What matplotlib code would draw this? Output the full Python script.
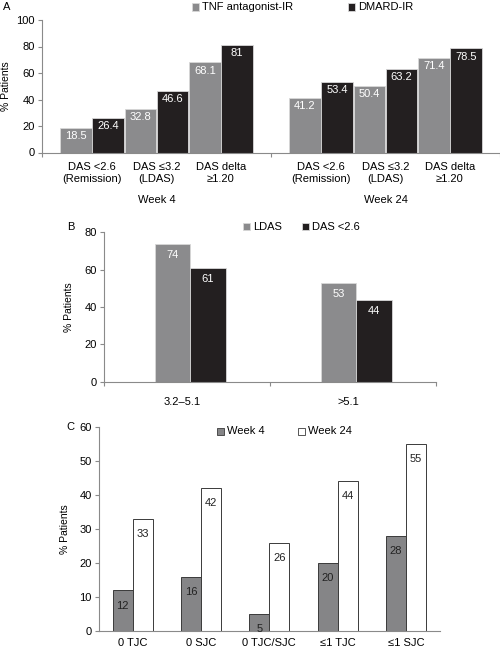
import matplotlib
matplotlib.use("Agg")
import matplotlib.pyplot as plt
import numpy as np

plt.rcParams['font.family'] = ['Liberation Sans', 'DejaVu Sans']
plt.rcParams['font.size'] = 7.5

GRAY = '#8b8b8d'
BLACK = '#231f20'
AXC = '#8a8a8a'

# panel A data
a_cats = ['DAS <2.6\n(Remission)', 'DAS \u22643.2\n(LDAS)', 'DAS delta\n\u22651.20']
a_groups = ['Week 4', 'Week 24']
a_tnf = [18.5, 32.8, 68.1, 41.2, 50.4, 71.4]
a_dmard = [26.4, 46.6, 81, 53.4, 63.2, 78.5]
a_labels_tnf = ['18.5', '32.8', '68.1', '41.2', '50.4', '71.4']
a_labels_dmard = ['26.4', '46.6', '81', '53.4', '63.2', '78.5']

# panel B data
b_cats = ['3.2\u20135.1', '>5.1']
b_ldas = [74, 53]
b_das = [61, 44]

# panel C data
c_cats = ['0 TJC', '0 SJC', '0 TJC/SJC', '\u22641 TJC', '\u22641 SJC']
c_wk4 = [12, 16, 5, 20, 28]
c_wk24 = [33, 42, 26, 44, 55]

W, H = 500, 649
fig = plt.figure(figsize=(W / 100, H / 100), dpi=100)


def px_axes(left, right, top, bottom):
    return fig.add_axes([left / W, 1 - bottom / H, (right - left) / W, (bottom - top) / H])


def style(ax):
    for s in ['top', 'right']:
        ax.spines[s].set_visible(False)
    for s in ['left', 'bottom']:
        ax.spines[s].set_color(AXC)
        ax.spines[s].set_linewidth(0.8)
    ax.tick_params(axis='y', length=3, width=0.8, color=AXC, pad=2, labelsize=8)
    ax.set_ylabel('% Patients', fontsize=7.5)


def legend_item(x, y, fc, ec, text):
    fig.patches.append(plt.Rectangle((x / W, 1 - (y + 3.5) / H), 7 / W, 7 / H,
                                     transform=fig.transFigure, fc=fc, ec=ec, lw=0.6))
    fig.text((x + 10) / W, 1 - y / H, text, va='center', ha='left', fontsize=8)


# ---- panel A
ax = px_axes(42, 500, 20, 152.5)
style(ax)
unit = 64.5
G = 229 / unit
idx = np.arange(6)
centers = (idx // 3) * G + 0.775 + (idx % 3)
bw = 0.49
ax.bar(centers - 0.25, a_tnf, bw, color=GRAY, edgecolor='#d8d8d8', lw=0.6)
ax.bar(centers + 0.25, a_dmard, bw, color=BLACK, edgecolor='#d8d8d8', lw=0.6)
for c, v, t in zip(centers, a_tnf, a_labels_tnf):
    ax.text(c - 0.25, v - 2.5, t, ha='center', va='top', color='white', fontsize=8)
for c, v, t in zip(centers, a_dmard, a_labels_dmard):
    ax.text(c + 0.25, v - 2.5, t, ha='center', va='top', color='white', fontsize=8)
ax.set_xlim(0, 458 / unit)
ax.set_ylim(0, 100)
ax.set_yticks(range(0, 101, 20))
ax.set_xticks([0, G, 2 * G])
ax.set_xticklabels([])
ax.tick_params(axis='x', length=3, width=0.8, color=AXC)
for c, lab in zip(centers, a_cats * 2):
    ax.text(c, -7.5, lab, ha='center', va='top', fontsize=8, linespacing=1.25)
for g, lab in enumerate(a_groups):
    ax.text(g * G + G / 2, -32, lab, ha='center', va='top', fontsize=8)
ax.yaxis.set_label_coords(-0.068, 0.5)
fig.text(3 / W, 1 - 7 / H, 'A', va='center', ha='left', fontsize=8)
legend_item(192, 7, GRAY, '#d8d8d8', 'TNF antagonist-IR')
legend_item(348, 7, BLACK, '#d8d8d8', 'DMARD-IR')

# ---- panel B
ax = px_axes(104, 436, 232.3, 381.7)
style(ax)
xb = np.arange(len(b_cats)) + 0.52
bw = 0.214
ax.bar(xb - bw / 2, b_ldas, bw, color=GRAY, edgecolor='#d8d8d8', lw=0.6)
ax.bar(xb + bw / 2, b_das, bw, color=BLACK, edgecolor='#d8d8d8', lw=0.6)
for x, v in zip(xb, b_ldas):
    ax.text(x - bw / 2, v - 3.5, str(v), ha='center', va='top', color='white', fontsize=8)
for x, v in zip(xb, b_das):
    ax.text(x + bw / 2, v - 3.5, str(v), ha='center', va='top', color='white', fontsize=8)
ax.set_xlim(0, 2)
ax.set_ylim(0, 80)
ax.set_yticks(range(0, 81, 20))
ax.set_xticks([0, 1, 2])
ax.set_xticklabels([])
ax.tick_params(axis='x', length=3, width=0.8, color=AXC)
for x, lab in zip(xb, b_cats):
    ax.text(x - 0.05, -8, lab, ha='center', va='top', fontsize=8)
ax.yaxis.set_label_coords(-0.09, 0.5)
fig.text(67 / W, 1 - 227 / H, 'B', va='center', ha='left', fontsize=8)
legend_item(243, 227, GRAY, '#d8d8d8', 'LDAS')
legend_item(302, 227, BLACK, '#d8d8d8', 'DAS <2.6')

# ---- panel C
ax = px_axes(98.7, 440, 426.7, 631.3)
style(ax)
xc = np.arange(len(c_cats)) + 0.5
bw = 0.293
ax.bar(xc - bw / 2, c_wk4, bw, color='#858587', edgecolor='#3a3a3a', lw=0.7)
ax.bar(xc + bw / 2, c_wk24, bw, color='white', edgecolor='#3a3a3a', lw=0.7)
for x, v in zip(xc, c_wk4):
    ax.text(x - bw / 2, max(v - 3, 2.2), str(v), ha='center', va='top', color='#222222', fontsize=8)
for x, v in zip(xc, c_wk24):
    ax.text(x + bw / 2, v - 3, str(v), ha='center', va='top', color='#222222', fontsize=8)
ax.set_xlim(0, 5)
ax.set_ylim(0, 60)
ax.set_yticks(range(0, 61, 10))
ax.set_xticks(xc)
ax.set_xticklabels(c_cats, fontsize=8)
ax.tick_params(axis='x', length=0, pad=4.5)
ax.yaxis.set_label_coords(-0.085, 0.5)
fig.text(66 / W, 1 - 427 / H, 'C', va='center', ha='left', fontsize=8)
legend_item(217, 431, '#858587', '#3a3a3a', 'Week 4')
legend_item(298, 431, 'white', '#3a3a3a', 'Week 24')

fig.savefig('out.png', dpi=100)
